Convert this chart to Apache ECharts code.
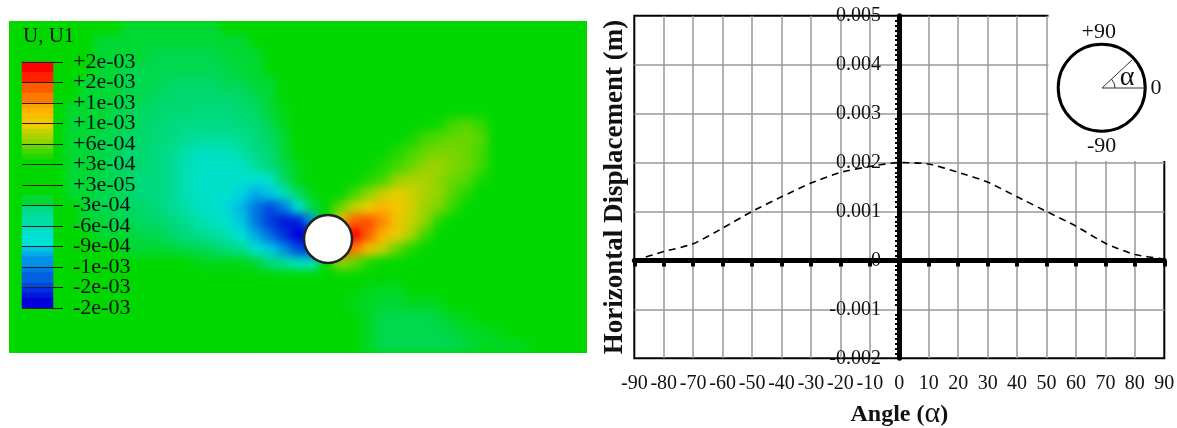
<!DOCTYPE html>
<html><head><meta charset="utf-8">
<script src="https://cdn.jsdelivr.net/npm/echarts@6/dist/echarts.min.js"></script>
<style>
html,body{margin:0;padding:0;background:#fff;width:1177px;height:428px;overflow:hidden}
#fieldClip{position:absolute;left:9px;top:21px;width:578px;height:332px;overflow:hidden;background:#00d800}
#field{position:absolute;left:0;top:0;width:578px;height:332px;filter:blur(5px)}
#main{position:absolute;left:0;top:0;width:1177px;height:428px}
</style></head><body>
<div id="fieldClip"><div id="field"></div></div>
<div id="main"></div>
<script>
// Curve
const angles=[-90,-80,-70,-60,-50,-40,-30,-20,-10,0,10,20,30,40,50,60,70,80,90];
const displacement=[0,0.00018,0.00034,0.00066,0.001,0.0013,0.00158,0.0018,0.00192,0.002,0.00197,0.0018,0.0016,0.0013,0.001,0.0007,0.00035,0.00012,0.00003];
// Colour legend of the contour panel
const legendLabels=['+2e-03','+2e-03','+1e-03','+1e-03','+6e-04','+3e-04','+3e-05','-3e-04','-6e-04','-9e-04','-1e-03','-2e-03','-2e-03'];
const legendEvenTicks=[0,2,4,6,8,10,12];
const legendOddTicks=[1,3,5,7,9,11];
const legendValues=[18,18,17,17,15,15,14,14,12.5,12,11,10.5,10,8,7,6,5,4,3,2,1,1,0,0,0,0,-1,-1,-3,-4,-5,-5,-6,-7,-8,-8,-10,-11,-12,-12,-13,-14,-14,-15,-16,-17,-18,-18];
const colorStops=['#0000d8','#0030e0','#0060e0','#0090e8','#00c4e4','#00e0d8','#00e0c0','#00dc90','#00d868','#00d800','#00d800','#40d800','#90d400','#c8d000','#f0cc00','#ffb000','#ff7800','#ff4000','#ff0000'];
// Contour field U1, tenths of a millimetre
const fieldRows=[
[0,0,0,0,0,0,0,0,-1,-1, -1,-1,-1,-1,-1,0,0,0,0,0, 0,0,0,0,0,0,0,0,0,0, 0,0,0,0,0,0,0,0,0,0,0],
[0,0,0,0,0,0,-1,-1,-1,-1, -1,-1,-1,-1,-1,-1,-1,0,0,0, 0,0,0,0,0,0,0,0,0,0, 0,0,0,0,0,0,0,0,0,0,0],
[0,0,0,0,0,0,-1,-1,-1,-1, -1.5,-1.5,-1.5,-1.5,-1.5,-1,-1,-1,0,0, 0,0,0,0,0,0,0,0,0,0, 0,0,0,0,0,0,0,0,0,0,0],
[0,0,0,0,0,0,-1,-1,-1.5,-1.5, -1.5,-1.5,-1.5,-1.5,-1.5,-1.5,-1,-1,0,0, 0,0,0,0,0,0,0,0,0,0, 0,0,0,0,0,0,0,0,0,0,0],
[0,0,0,0,0,-1,-1,-1,-1.5,-1.5, -1.5,-2,-2,-2,-2,-1.5,-1.5,-1,-1,0, 0,0,0,0,0,0,0,0,0,0, 0,0,0,0,0,0,0,0,0,0,0],
[0,0,0,0,0,-1,-1,-1,-1.5,-1.5, -2,-2,-2.5,-2.5,-2.5,-2.5,-2,-1.5,-1,0, 0,0,0,0,0,0,0,0,0,0, 0,0,0,0,0,0,0,0,0,0,0],
[0,0,0,0,-1,-1,-1,-1.5,-1.5,-2, -2,-2.5,-2.5,-3,-3,-3,-2.5,-2,-1,-0.5, 0,0,0,0,0,0,0,0,0,0, 0,1,1,0,0,0,0,0,0,0,0],
[0,0,0,0,-1,-1,-1,-1.5,-1.5,-2, -2.5,-3,-3.5,-3.5,-3.5,-3.5,-3,-2.5,-1.5,-0.5, 0,0,0,0,0,0,0,0,1,1.5, 2.5,4,4.5,3.5,1,0,0,0,0,0,0],
[0,0,0,0,-1,-1,-1.5,-1.5,-2,-2, -3,-3,-4,-4.5,-4.5,-4.5,-4,-3,-2,-1, 0,0,0,0,0,0,0,1,2.5,4, 4.5,5,5,4.5,2,0,0,0,0,0,0],
[0,0,0,0,-1,-1,-1.5,-1.5,-2.5,-2.5, -3,-4,-5,-6,-6,-6,-5,-3.5,-2.5,-1, 0,0,0,0,0,0,1,3,4,5, 5.5,5.5,5,4,2,0,0,0,0,0,0],
[0,0,0,0,-1,-1,-1,-2,-2,-2.5, -3,-4,-5.5,-6.5,-6.5,-6.5,-6,-4.5,-3,-1.5, -0.5,0,0,0,1,2,3,4,5,6, 6.5,5.5,5,4,1,0,0,0,0,0,0],
[0,0,0,0,-1,-1,-1.5,-1.5,-2,-3, -3,-4,-5.5,-6.5,-7,-7,-7,-8,-7,-2, -0.5,0,0,1,2,3,4,6,7,7, 6,5,4.5,2.5,0,0,0,0,0,0,0],
[0,0,0,0,-1,-1,-1.5,-1.5,-2,-3, -3,-4,-5.5,-6.5,-7,-7,-9,-11,-10,-6, -2,-0.5,0,2,4,6,8,9.5,8.5,7, 6,4.5,3,1,0,0,0,0,0,0,0],
[0,0,0,0,0,-1,-1.5,-1.5,-2,-2, -3,-4,-5,-6,-7,-8.5,-10.5,-13,-15,-13, -8,-1.5,0,5,8,10,12,10.5,8.5,6.5, 5.5,3.5,1,0,0,0,0,0,0,0,0],
[0,0,0,0,0,-1,-1,-1.5,-1.5,-2, -2,-3,-4,-5,-6,-7,-10,-13,-15.5,-17, -17,-12,0,11,15,15.5,13.5,11,8,6, 3,1,0,0,0,0,0,0,0,0,0],
[0,0,0,0,0,0,-1,-1,-1,-1.5, -1.5,-2,-3,-4,-4.5,-5.5,-8,-11,-13.5,-16, -18,-18,0,18,18,15,12,9.5,7,4, 1.5,0,0,0,0,0,0,0,0,0,0],
[0,0,0,0,0,0,0,0,-1,-1, -1,-1,-1.5,-1.5,-2,-3,-4,-7.5,-9.5,-12, -15,-16,0,16,14,11,8,5,3,1, 0,0,0,0,0,0,0,0,0,0,0],
[0,0,0,0,0,0,0,0,0,0, 0,0,0,-0.5,-0.5,-0.5,-0.5,-1,-3,-4.5, -6,-6,0,6,5,3,2,1,0,0, 0,0,0,0,0,0,0,0,0,0,0],
[0,0,0,0,0,0,0,0,0,0, 0,0,0,0,0,0,0,0,0,0, 0,0,0,0,0,0,0,0,0,0, 0,0,0,0,0,0,0,0,0,0,0],
[0,0,0,0,0,0,0,0,0,0, 0,0,0,0,0,0,0,0,0,0, 0,0,0,0,0,-0.5,-0.7,-0.7,0,0, 0,0,0,0,0,0,0,0,0,0,0],
[0,0,0,0,0,0,0,0,0,0, 0,0,0,0,0,0,0,0,0,0, 0,0,0,0,-0.5,-0.7,-1,-1,-0.7,-0.7, -0.5,0,0,0,0,0,0,0,0,0,0],
[0,0,0,0,0,0,0,0,0,0, 0,0,0,0,0,0,0,0,0,0, 0,0,0,0,0,-0.7,-1.5,-1.5,-1.5,-1.5, -1.2,-0.7,-0.5,0,0,0,0,0,0,0,0],
[0,0,0,0,0,0,0,0,0,0, 0,0,0,0,0,0,0,0,0,0, 0,0,0,0,0,-0.7,-1.5,-1.5,-1.5,-1.5, -1.5,-1.2,-0.7,-0.7,-0.5,0,0,0,0,0,0],
[0,0,0,0,0,0,0,0,0,0, 0,0,0,0,0,0,0,0,0,0, 0,0,0,0,0,-0.7,-1.5,-1.5,-1.5,-1.5, -1.5,-1.5,-1.2,-0.7,-0.7,-0.7,-0.5,0,0,0,0]
];
const holeCentre=[[319,218]];

const serif='"Liberation Serif","Times New Roman",serif';
const fieldCells=[];
fieldRows.forEach((row,j)=>row.forEach((v,i)=>fieldCells.push([i,j,v])));
const fieldChart=echarts.init(document.getElementById('field'));
fieldChart.setOption({
  animation:false,
  grid:{left:0,right:0,top:0,bottom:0,outerBoundsMode:'none'},
  xAxis:{type:'category',data:fieldRows[0].map((_,i)=>i),show:false},
  yAxis:{type:'category',data:fieldRows.map((_,j)=>j),show:false,inverse:true},
  visualMap:{show:false,min:-18,max:18,dimension:2,inRange:{color:colorStops}},
  series:[{type:'heatmap',data:fieldCells,progressive:0,itemStyle:{borderWidth:0}}]
});

const plotRect={left:634.3,top:15.7,width:530,height:342.6,outerBoundsMode:'none'};
const legendRect={left:22,top:62,width:31,height:246,outerBoundsMode:'none'};
const legendLabelStyle={fontSize:22,fontFamily:serif,color:'#111',margin:20,formatter:v=>legendLabels[12-v]};

const chart=echarts.init(document.getElementById('main'));
chart.setOption({
  animation:false,
  backgroundColor:'transparent',
  textStyle:{fontFamily:serif,color:'#111'},
  visualMap:{show:false,seriesIndex:0,min:-18,max:18,dimension:2,inRange:{color:colorStops}},
  grid:[
    {...plotRect,show:true,borderColor:'#000',borderWidth:2,backgroundColor:'transparent'},
    {...legendRect},
    {left:9,top:21,width:578,height:332,outerBoundsMode:'none'},
    {...legendRect},
    {...plotRect}
  ],
  xAxis:[
    {gridIndex:0,type:'value',min:-90,max:90,interval:10,position:'bottom',
     axisLine:{show:false,onZero:false},axisTick:{show:false},
     axisLabel:{fontSize:20,fontFamily:serif,color:'#111',margin:15,hideOverlap:false,showMinLabel:true,showMaxLabel:true},
     splitLine:{show:true,showMinLine:false,showMaxLine:false,lineStyle:{color:'#999',width:1.5}},
     name:'{b|Angle (}{a|α}{b|)}',nameLocation:'middle',nameGap:41,
     nameTextStyle:{rich:{b:{fontFamily:serif,fontWeight:'bold',fontSize:24,color:'#111'},a:{fontFamily:serif,fontSize:30,color:'#111'}}}},
    {gridIndex:1,type:'category',data:['U1'],show:false},
    {gridIndex:2,type:'value',min:0,max:578,show:false},
    {gridIndex:3,type:'value',min:0,max:1,show:false},
    {gridIndex:4,type:'value',min:-90,max:90,interval:10,position:'bottom',
     axisLine:{show:true,onZero:true,lineStyle:{color:'#000',width:5}},
     axisTick:{show:true,length:6,inside:false,lineStyle:{color:'#000',width:4}},
     axisLabel:{show:false},splitLine:{show:false}}
  ],
  yAxis:[
    {gridIndex:0,type:'value',min:-0.002,max:0.005,interval:0.001,position:'left',offset:-264.7,
     axisLine:{show:true,onZero:false,lineStyle:{color:'#000',width:5}},
     axisTick:{show:false},
     minorTick:{show:true,splitNumber:10,length:4,lineStyle:{color:'#000',width:2}},
     axisLabel:{fontSize:20,fontFamily:serif,color:'#111',margin:18,showMinLabel:true,showMaxLabel:true},
     splitLine:{show:true,showMinLine:false,showMaxLine:false,lineStyle:{color:'#999',width:1.5}},
     name:'Horizontal Displacement (m)',nameLocation:'middle',nameRotate:90,nameGap:270,
     nameTextStyle:{fontFamily:serif,fontWeight:'bold',fontSize:27,color:'#111'}},
    {gridIndex:1,type:'category',data:legendValues.map((_,i)=>i),inverse:true,position:'left',
     axisLine:{show:true,onZero:false,lineStyle:{color:'#222',width:1}},axisTick:{show:false},axisLabel:{show:false},splitLine:{show:false}},
    {gridIndex:1,type:'value',min:0,max:12,interval:1,position:'right',
     axisLine:{show:false,onZero:false},
     axisTick:{show:true,length:10,lineStyle:{color:'#111',width:1}},
     axisLabel:{...legendLabelStyle,customValues:legendEvenTicks},
     splitLine:{show:true,lineStyle:{color:'#222',width:1}},z:5},
    {gridIndex:2,type:'value',min:0,max:332,inverse:true,show:false},
    {gridIndex:3,type:'value',min:0,max:12,interval:1,position:'right',
     axisLine:{show:false,onZero:false},
     axisTick:{show:false},
     axisLabel:{...legendLabelStyle,customValues:legendOddTicks},
     splitLine:{show:false},z:5},
    {gridIndex:4,type:'value',min:-0.002,max:0.005,interval:0.001,show:false}
  ],
  series:[
    {type:'heatmap',xAxisIndex:1,yAxisIndex:1,progressive:0,itemStyle:{borderWidth:0},
     data:legendValues.map((v,i)=>[0,i,v])},
    {type:'line',xAxisIndex:0,yAxisIndex:0,symbol:'none',smooth:0.2,z:6,
     lineStyle:{color:'#000',width:1.6,type:[7,5]},
     data:angles.map((a,i)=>[a,displacement[i]])},
    {type:'scatter',xAxisIndex:2,yAxisIndex:3,symbol:'circle',symbolSize:48,z:6,
     itemStyle:{color:'#fff',borderColor:'#222',borderWidth:2.5,opacity:1},
     data:holeCentre}
  ],
  graphic:[
    {type:'text',left:23,top:26,z:20,style:{text:'U, U1',font:'21px '+serif,fill:'#111'}},
    {type:'rect',z:10,shape:{x:1048.5,y:0,width:128.5,height:161},style:{fill:'#fff'}},
    {type:'circle',z:11,shape:{cx:1101.7,cy:87.7,r:43.5},style:{fill:'#fff',stroke:'#000',lineWidth:3}},
    {type:'line',z:12,shape:{x1:1102,y1:88,x2:1145,y2:88},style:{stroke:'#333',lineWidth:1}},
    {type:'line',z:12,shape:{x1:1102,y1:88,x2:1132,y2:60},style:{stroke:'#333',lineWidth:1}},
    {type:'arc',z:12,shape:{cx:1102,cy:88,r:13,startAngle:-0.75,endAngle:0,clockwise:true},style:{stroke:'#333',lineWidth:1,fill:'none'}},
    {type:'text',z:12,x:1127,y:78,style:{text:'α',font:'28px '+serif,fill:'#111',align:'center',verticalAlign:'middle'}},
    {type:'text',z:12,x:1098.7,y:32,style:{text:'+90',font:'22px '+serif,fill:'#111',align:'center',verticalAlign:'middle'}},
    {type:'text',z:12,x:1156,y:88,style:{text:'0',font:'22px '+serif,fill:'#111',align:'center',verticalAlign:'middle'}},
    {type:'text',z:12,x:1101.7,y:146,style:{text:'-90',font:'22px '+serif,fill:'#111',align:'center',verticalAlign:'middle'}}
  ]
});
</script>
</body></html>
